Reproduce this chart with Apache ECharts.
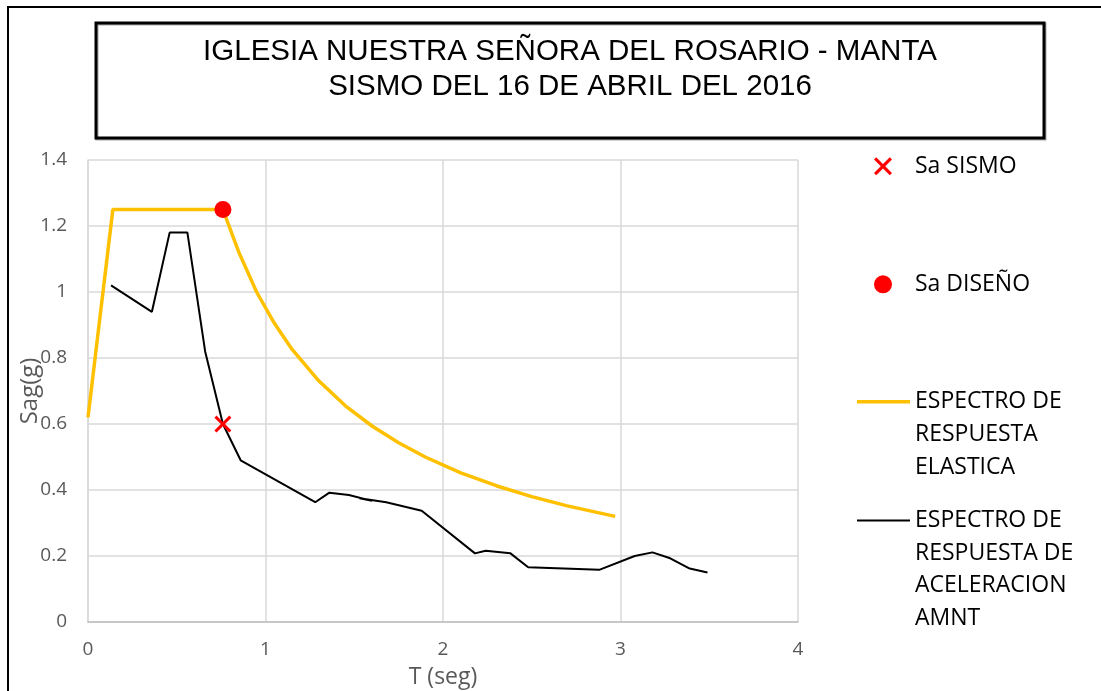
<!DOCTYPE html>
<html>
<head>
<meta charset="utf-8">
<script src="https://cdn.jsdelivr.net/npm/echarts@6/dist/echarts.min.js"></script>
<style>
html,body{margin:0;padding:0;background:#fff;}
#chart{width:1101px;height:691px;}
</style>
</head>
<body>
<div id="chart"></div>
<script>
// espectro elastico (NEC)
var tElastic = [0, 0.14, 0.76, 0.85, 0.95, 1.05, 1.15, 1.3, 1.45, 1.6, 1.75, 1.9, 2.1, 2.3, 2.5, 2.7, 2.97];
var saElastic = [0.62, 1.25, 1.25, 1.12, 1.0, 0.905, 0.826, 0.731, 0.655, 0.594, 0.543, 0.5, 0.452, 0.413, 0.38, 0.352, 0.32];
// espectro de aceleracion AMNT
var tAmnt = [0.13, 0.36, 0.46, 0.56, 0.66, 0.76, 0.86, 1.28, 1.36, 1.47, 1.6, 1.53, 1.68, 1.88, 2.18, 2.24, 2.38, 2.48, 2.88, 3.08, 3.18, 3.28, 3.39, 3.49];
var saAmnt = [1.02, 0.94, 1.18, 1.18, 0.82, 0.6, 0.49, 0.363, 0.392, 0.385, 0.367, 0.375, 0.363, 0.337, 0.208, 0.216, 0.208, 0.166, 0.158, 0.2, 0.211, 0.193, 0.162, 0.15];
// puntos
var sismoPt = [0.76, 0.6];
var disenoPt = [0.76, 1.25];

var xTicks = {min: 0, max: 4, interval: 1};
var yTicks = {min: 0, max: 1.4, interval: 0.2};

var NAME_SISMO = 'Sa SISMO';
var NAME_DISENO = 'Sa DISEÑO';
var NAME_ELAST = 'ESPECTRO DE RESPUESTA ELASTICA';
var NAME_AMNT = 'ESPECTRO DE RESPUESTA DE ACELERACION AMNT';
var legendLines = {};
legendLines[NAME_ELAST] = ['ESPECTRO DE', 'RESPUESTA', 'ELASTICA'];
legendLines[NAME_AMNT] = ['ESPECTRO DE', 'RESPUESTA DE', 'ACELERACION', 'AMNT'];

var titleLines = ['IGLESIA NUESTRA SEÑORA DEL ROSARIO - MANTA', 'SISMO DEL 16 DE ABRIL DEL 2016'];

function pairs(xs, ys){
	var out = [];
	for(var i = 0; i < xs.length; i++){
		out.push([xs[i], ys[i]]);
	}
	return out;
}

var fontLbl = 'Open Sans';
var lh = 32.7;
var crossPath = 'path://M1.5,0 L6,4.5 L10.5,0 L12,1.5 L7.5,6 L12,10.5 L10.5,12 L6,7.5 L1.5,12 L0,10.5 L4.5,6 L0,1.5 Z';

// icono alineado con la primera linea: se anteponen lineas vacias
function legendText(nm){
	var lines = legendLines[nm];
	if(!lines){
		return '{p|' + nm + '}';
	}
	var pad = [];
	for(var i = 1; i < lines.length; i++){
		pad.push('');
	}
	return pad.concat(lines).join('\n');
}

function legendItem(name, left, top, icon, w, h){
	var item = {name: name};
	if(icon){
		item.icon = icon;
	}
	return {
		data: [item],
		left: left,
		top: top,
		padding: 0,
		itemWidth: w,
		itemHeight: h,
		selectedMode: false,
		formatter: legendText,
		itemStyle: {opacity: 1},
		textStyle: {
			fontFamily: fontLbl,
			fontSize: 23,
			color: '#000',
			lineHeight: lh,
			rich: {
				p: {fontFamily: fontLbl, fontSize: 23, color: '#000', lineHeight: lh, padding: [0, 0, 0, 18]}
			}
		}
	};
}

var chart = echarts.init(document.getElementById('chart'));
var option = {
	backgroundColor: '#fff',
	animation: false,
	title: {
		text: titleLines.join('\n'),
		left: 570,
		top: 34,
		padding: 0,
		textAlign: 'center',
		textStyle: {
			fontFamily: 'Liberation Sans',
			fontSize: 29.5,
			fontWeight: 'normal',
			color: '#000',
			lineHeight: 35
		}
	},
	graphic: [
		{
			type: 'polyline',
			shape: {points: [[8, 691], [8, 7], [1101, 7]]},
			style: {stroke: '#000', lineWidth: 2, fill: null}
		},
		{
			type: 'rect',
			shape: {x: 96, y: 23, width: 948, height: 115},
			style: {stroke: '#000', lineWidth: 3, fill: null, shadowColor: 'rgba(0,0,0,0.35)', shadowOffsetX: 1, shadowOffsetY: 1}
		}
	],
	legend: [
		legendItem(NAME_SISMO, 874, 150, null, 18, 18),
		legendItem(NAME_DISENO, 874, 268, null, 18, 18),
		legendItem(NAME_ELAST, 857, 320, 'rect', 53, 3.5),
		legendItem(NAME_AMNT, 857, 406, 'rect', 53, 2)
	],
	grid: {
		left: 88,
		right: 303,
		top: 160,
		bottom: 69,
		containLabel: false,
		outerBoundsMode: 'none'
	},
	xAxis: {
		type: 'value',
		min: xTicks.min,
		max: xTicks.max,
		interval: xTicks.interval,
		name: 'T (seg)',
		nameLocation: 'middle',
		nameGap: 44,
		nameMoveOverlap: false,
		nameTextStyle: {fontFamily: fontLbl, fontSize: 23, color: '#595959'},
		axisLine: {show: true, lineStyle: {color: '#bfbfbf', width: 1.5}},
		axisTick: {show: false},
		axisLabel: {fontFamily: fontLbl, fontSize: 19, color: '#595959', margin: 18},
		splitLine: {show: true, lineStyle: {color: '#d9d9d9', width: 1.5}}
	},
	yAxis: {
		type: 'value',
		min: yTicks.min,
		max: yTicks.max,
		interval: yTicks.interval,
		name: 'Sag(g)',
		nameLocation: 'middle',
		nameGap: 46,
		nameMoveOverlap: false,
		nameTextStyle: {fontFamily: fontLbl, fontSize: 24, color: '#595959'},
		axisLine: {show: true, lineStyle: {color: '#d9d9d9', width: 1.5}},
		axisTick: {show: false},
		axisLabel: {fontFamily: fontLbl, fontSize: 19, color: '#595959', margin: 21},
		splitLine: {show: true, lineStyle: {color: '#d9d9d9', width: 1.5}}
	},
	series: [
		{
			name: NAME_SISMO,
			type: 'scatter',
			symbol: crossPath,
			symbolSize: 17,
			itemStyle: {color: '#ff0000', opacity: 1},
			data: [sismoPt],
			z: 5
		},
		{
			name: NAME_DISENO,
			type: 'scatter',
			symbol: 'circle',
			symbolSize: 17,
			itemStyle: {color: '#ff0000', opacity: 1},
			data: [disenoPt],
			z: 5
		},
		{
			name: NAME_ELAST,
			type: 'line',
			symbol: 'none',
			showSymbol: false,
			lineStyle: {color: '#ffc000', width: 3.5},
			itemStyle: {color: '#ffc000'},
			data: pairs(tElastic, saElastic),
			z: 2
		},
		{
			name: NAME_AMNT,
			type: 'line',
			symbol: 'none',
			showSymbol: false,
			lineStyle: {color: '#000', width: 2},
			itemStyle: {color: '#000'},
			data: pairs(tAmnt, saAmnt),
			z: 3
		}
	]
};
chart.setOption(option);
</script>
</body>
</html>
